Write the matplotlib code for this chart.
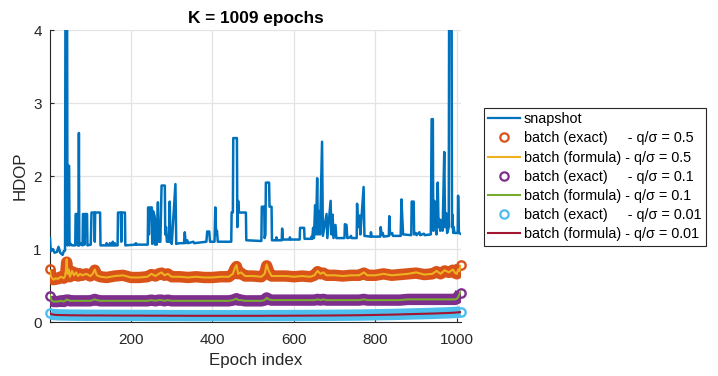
import matplotlib
matplotlib.use("Agg")
import matplotlib.pyplot as plt
from matplotlib.lines import Line2D
import numpy as np

plt.rcParams["font.family"] = ["Liberation Sans", "DejaVu Sans"]

# colours (matlab default order)
C_BLUE = "#0072BD"
C_ORANGE = "#D95319"
C_YELLOW = "#EDB120"
C_PURPLE = "#7E2F8E"
C_GREEN = "#77AC30"
C_LBLUE = "#4DBEEE"
C_RED = "#A2142F"
C_AX = "#262626"

# snapshot HDOP as (epoch, value) points
snapshot_pts = [
    (1, 1.15), (3, 0.97), (8, 1.0), (12, 0.95), (18, 0.96), (22, 1.03),
    (26, 0.95), (32, 0.92), (35, 0.97), (38, 0.98), (39, 4.5), (43, 4.5),
    (44, 1.05), (46, 2.14), (48, 2.14), (49, 1.05), (52, 1.07), (55, 1.05),
    (63, 1.05), (64, 1.48), (68, 1.48), (69, 1.05), (71, 1.05), (72, 2.59),
    (73, 1.05), (76, 1.08), (81, 1.05), (82, 1.48), (85, 1.48), (86, 1.06),
    (88, 1.48), (92, 1.48), (93, 1.05), (101, 1.06), (103, 1.5), (110, 1.5),
    (111, 1.1), (112, 1.5), (124, 1.5), (125, 1.05), (139, 1.05), (140, 1.08),
    (142, 1.05), (147, 1.05), (148, 1.08), (150, 1.05), (154, 1.05),
    (155, 1.1), (157, 1.05), (159, 1.05), (160, 1.08), (162, 1.05),
    (167, 1.05), (168, 1.5), (175, 1.5), (176, 1.1), (177, 1.5), (185, 1.5),
    (186, 1.05), (211, 1.06), (212, 1.08), (214, 1.06), (241, 1.06),
    (242, 1.57), (244, 1.2), (246, 1.57), (251, 1.57), (252, 1.07),
    (254, 1.52), (258, 1.45), (259, 1.06), (261, 1.4), (263, 1.06),
    (266, 1.64), (268, 1.1), (272, 1.1), (275, 1.87), (283, 1.87), (284, 1.2),
    (286, 1.3), (288, 1.1), (293, 1.1), (295, 1.65), (297, 1.1), (300, 1.07),
    (309, 1.89), (311, 1.07), (318, 1.08), (330, 1.08), (332, 1.23),
    (334, 1.08), (338, 1.12), (340, 1.08), (353, 1.1), (355, 1.08),
    (385, 1.1), (387, 1.24), (392, 1.24), (394, 1.1), (405, 1.1), (407, 1.57),
    (409, 1.2), (411, 1.25), (413, 1.1), (446, 1.1), (447, 1.5), (450, 1.5),
    (451, 2.52), (460, 2.52), (461, 1.3), (463, 1.66), (465, 1.5), (482, 1.5),
    (483, 1.12), (520, 1.11), (521, 1.58), (527, 1.58), (528, 1.15),
    (530, 1.2), (531, 1.91), (539, 1.91), (540, 1.58), (545, 1.58),
    (546, 1.12), (556, 1.12), (557, 1.16), (558, 1.12), (570, 1.12),
    (571, 1.28), (573, 1.13), (589, 1.13), (590, 1.16), (592, 1.13),
    (614, 1.13), (615, 1.29), (625, 1.29), (626, 1.14), (642, 1.14),
    (643, 1.17), (645, 1.14), (647, 1.29), (649, 1.15), (652, 1.6),
    (654, 1.2), (657, 1.97), (659, 1.2), (662, 1.52), (664, 1.2), (669, 2.47),
    (671, 1.18), (680, 1.48), (682, 1.15), (690, 1.66), (692, 1.2),
    (695, 1.47), (697, 1.15), (702, 1.33), (704, 1.15), (724, 1.15),
    (725, 1.34), (729, 1.33), (731, 1.15), (738, 1.16), (740, 1.18),
    (742, 1.15), (754, 1.15), (755, 1.62), (757, 1.3), (761, 1.46),
    (763, 1.2), (771, 1.85), (773, 1.18), (788, 1.17), (789, 1.23),
    (791, 1.17), (812, 1.17), (813, 1.3), (815, 1.2), (818, 1.22),
    (820, 1.17), (833, 1.18), (834, 1.45), (836, 1.2), (841, 1.22),
    (843, 1.18), (862, 1.18), (864, 1.68), (866, 1.42), (868, 1.2),
    (888, 1.19), (889, 1.65), (894, 1.65), (895, 1.2), (899, 1.22),
    (901, 1.19), (908, 1.23), (910, 1.19), (919, 1.21), (921, 1.19),
    (936, 1.2), (938, 2.78), (941, 2.78), (942, 1.25), (945, 1.66),
    (947, 1.3), (950, 1.2), (953, 1.91), (955, 1.3), (957, 1.41), (959, 1.25),
    (963, 1.39), (965, 1.25), (969, 2.33), (971, 1.3), (974, 1.49),
    (976, 1.22), (980, 1.3), (981, 4.5), (987, 4.5), (988, 1.3), (989, 1.47),
    (991, 1.22), (992, 1.3), (994, 1.22), (1002, 1.22), (1003, 1.73),
    (1005, 1.22), (1009, 1.21),
]

# batch solutions, sampled epochs
batch_epoch = [
    1, 3, 6, 10, 15, 20, 28, 35, 38, 40,
    42, 44, 47, 50, 55, 60, 65, 70, 75, 80,
    90, 100, 106, 111, 116, 125, 140, 160, 180, 200,
    220, 240, 250, 260, 268, 275, 282, 290, 300, 320,
    340, 360, 380, 400, 420, 440, 450, 455, 459, 463,
    470, 480, 500, 520, 528, 533, 538, 545, 560, 580,
    600, 620, 640, 650, 658, 665, 672, 680, 700, 720,
    740, 760, 772, 780, 800, 820, 840, 860, 880, 900,
    920, 940, 950, 960, 970, 980, 990, 996, 1000, 1003,
    1006, 1009,
]

q05_formula = [
    0.70, 0.63, 0.60, 0.58, 0.60, 0.59, 0.62, 0.60, 0.63, 0.70,
    0.86, 0.66, 0.72, 0.62, 0.70, 0.64, 0.68, 0.63, 0.66, 0.64,
    0.66, 0.63, 0.66, 0.72, 0.64, 0.62, 0.61, 0.63, 0.64, 0.61,
    0.61, 0.62, 0.66, 0.63, 0.66, 0.68, 0.64, 0.66, 0.62, 0.62,
    0.61, 0.62, 0.61, 0.61, 0.62, 0.62, 0.66, 0.74, 0.78, 0.66,
    0.68, 0.63, 0.63, 0.62, 0.66, 0.79, 0.70, 0.63, 0.63, 0.63,
    0.62, 0.63, 0.62, 0.64, 0.70, 0.66, 0.68, 0.64, 0.64, 0.63,
    0.64, 0.64, 0.68, 0.64, 0.64, 0.66, 0.64, 0.65, 0.66, 0.68,
    0.65, 0.66, 0.70, 0.66, 0.71, 0.68, 0.72, 0.67, 0.66, 0.72,
    0.70, 0.77,
]
q05_exact = [
    0.72, 0.64, 0.60, 0.58, 0.60, 0.59, 0.62, 0.60, 0.63, 0.69,
    0.82, 0.66, 0.71, 0.62, 0.69, 0.64, 0.67, 0.63, 0.66, 0.64,
    0.66, 0.63, 0.66, 0.71, 0.64, 0.62, 0.61, 0.63, 0.64, 0.61,
    0.61, 0.62, 0.65, 0.63, 0.66, 0.67, 0.64, 0.66, 0.62, 0.62,
    0.61, 0.62, 0.61, 0.61, 0.62, 0.62, 0.66, 0.73, 0.76, 0.66,
    0.67, 0.63, 0.63, 0.62, 0.66, 0.77, 0.69, 0.63, 0.63, 0.63,
    0.62, 0.63, 0.62, 0.64, 0.69, 0.66, 0.67, 0.64, 0.64, 0.63,
    0.64, 0.64, 0.67, 0.64, 0.64, 0.66, 0.64, 0.65, 0.66, 0.67,
    0.65, 0.66, 0.69, 0.66, 0.70, 0.68, 0.71, 0.67, 0.66, 0.71,
    0.70, 0.78,
]

q01_formula = [
    0.37, 0.32, 0.29, 0.28, 0.28, 0.28, 0.29, 0.28, 0.29, 0.30,
    0.31, 0.30, 0.30, 0.29, 0.29, 0.29, 0.29, 0.29, 0.29, 0.29,
    0.29, 0.29, 0.30, 0.31, 0.30, 0.29, 0.29, 0.29, 0.29, 0.29,
    0.29, 0.29, 0.30, 0.29, 0.30, 0.30, 0.29, 0.30, 0.29, 0.29,
    0.29, 0.29, 0.29, 0.29, 0.29, 0.29, 0.30, 0.31, 0.32, 0.30,
    0.30, 0.29, 0.29, 0.29, 0.30, 0.33, 0.31, 0.30, 0.30, 0.30,
    0.30, 0.30, 0.30, 0.30, 0.31, 0.30, 0.31, 0.30, 0.30, 0.30,
    0.30, 0.30, 0.31, 0.30, 0.30, 0.30, 0.30, 0.30, 0.31, 0.31,
    0.31, 0.31, 0.31, 0.31, 0.31, 0.31, 0.31, 0.31, 0.32, 0.34,
    0.38, 0.41,
]
q01_exact = [
    0.35, 0.31, 0.29, 0.28, 0.28, 0.28, 0.29, 0.28, 0.29, 0.30,
    0.30, 0.30, 0.30, 0.29, 0.29, 0.29, 0.29, 0.29, 0.29, 0.29,
    0.29, 0.29, 0.30, 0.31, 0.30, 0.29, 0.29, 0.29, 0.29, 0.29,
    0.29, 0.29, 0.30, 0.29, 0.30, 0.30, 0.29, 0.30, 0.29, 0.29,
    0.29, 0.29, 0.29, 0.29, 0.29, 0.29, 0.30, 0.31, 0.32, 0.30,
    0.30, 0.29, 0.29, 0.29, 0.30, 0.33, 0.31, 0.30, 0.30, 0.30,
    0.30, 0.30, 0.30, 0.30, 0.31, 0.30, 0.31, 0.30, 0.30, 0.30,
    0.30, 0.30, 0.31, 0.30, 0.30, 0.30, 0.30, 0.30, 0.31, 0.31,
    0.31, 0.31, 0.31, 0.31, 0.31, 0.31, 0.31, 0.31, 0.32, 0.34,
    0.37, 0.40,
]

q001_formula = [
    0.120, 0.110, 0.105, 0.100, 0.098, 0.096, 0.095, 0.094, 0.094, 0.094,
    0.093, 0.093, 0.093, 0.092, 0.092, 0.092, 0.091, 0.091, 0.091, 0.091,
    0.090, 0.090, 0.090, 0.090, 0.090, 0.090, 0.089, 0.089, 0.088, 0.088,
    0.088, 0.087, 0.087, 0.087, 0.087, 0.087, 0.087, 0.086, 0.086, 0.086,
    0.085, 0.085, 0.085, 0.085, 0.085, 0.085, 0.085, 0.085, 0.085, 0.085,
    0.085, 0.085, 0.085, 0.085, 0.085, 0.086, 0.086, 0.086, 0.086, 0.086,
    0.087, 0.087, 0.088, 0.088, 0.088, 0.089, 0.089, 0.089, 0.090, 0.091,
    0.092, 0.093, 0.094, 0.095, 0.097, 0.099, 0.101, 0.104, 0.107, 0.110,
    0.113, 0.116, 0.118, 0.120, 0.122, 0.124, 0.127, 0.129, 0.131, 0.132,
    0.134, 0.136,
]
q001_exact = [
    0.125, 0.113, 0.107, 0.102, 0.100, 0.098, 0.097, 0.096, 0.096, 0.096,
    0.095, 0.095, 0.095, 0.094, 0.094, 0.094, 0.093, 0.093, 0.093, 0.093,
    0.092, 0.092, 0.092, 0.092, 0.092, 0.092, 0.091, 0.091, 0.090, 0.090,
    0.090, 0.089, 0.089, 0.089, 0.089, 0.089, 0.089, 0.088, 0.088, 0.088,
    0.087, 0.087, 0.087, 0.087, 0.087, 0.087, 0.087, 0.087, 0.087, 0.087,
    0.087, 0.087, 0.087, 0.087, 0.087, 0.088, 0.088, 0.088, 0.088, 0.088,
    0.089, 0.089, 0.090, 0.090, 0.090, 0.091, 0.091, 0.091, 0.092, 0.093,
    0.094, 0.095, 0.096, 0.097, 0.099, 0.101, 0.103, 0.106, 0.109, 0.112,
    0.115, 0.118, 0.120, 0.122, 0.124, 0.126, 0.129, 0.131, 0.133, 0.134,
    0.136, 0.138,
]

labels = [
    "snapshot",
    "batch (exact)     - q/σ = 0.5",
    "batch (formula) - q/σ = 0.5",
    "batch (exact)     - q/σ = 0.1",
    "batch (formula) - q/σ = 0.1",
    "batch (exact)     - q/σ = 0.01",
    "batch (formula) - q/σ = 0.01",
]

fig = plt.figure(figsize=(7.18, 3.76), dpi=100)
ax = fig.add_axes([0.0696, 0.1436, 0.5724, 0.7764])

snap_x, snap_y = zip(*snapshot_pts)
ax.plot(snap_x, snap_y, color=C_BLUE, lw=1.8, zorder=3)

exact_series = [(q05_exact, C_ORANGE), (q01_exact, C_PURPLE),
                (q001_exact, C_LBLUE)]
formula_series = [(q05_formula, C_YELLOW), (q01_formula, C_GREEN),
                  (q001_formula, C_RED)]

for vals, col in exact_series:
    # dense circle markers in the original merge into a thick band
    ax.plot(batch_epoch, vals, color=col, lw=8.2, solid_capstyle="butt",
            solid_joinstyle="round", zorder=4)
    ax.plot([batch_epoch[0], batch_epoch[-1]], [vals[0], vals[-1]],
            ls="none", marker="o", ms=6, mew=1.7, mfc="none", mec=col,
            zorder=4, clip_on=False)
for vals, col in formula_series:
    ax.plot(batch_epoch, vals, color=col, lw=1.5, zorder=5)

ax.set_xlim(1, 1010)
ax.set_ylim(0, 4)
ax.set_xticks([200, 400, 600, 800, 1000])
ax.set_yticks([0, 1, 2, 3, 4])
ax.grid(True, color="#E3E3E3", lw=0.9)
ax.set_axisbelow(True)
for side in ["top", "right"]:
    ax.spines[side].set_visible(False)
for side in ["left", "bottom"]:
    ax.spines[side].set_color(C_AX)
    ax.spines[side].set_linewidth(0.8)
ax.tick_params(direction="in", length=3, width=0.8, colors=C_AX,
               labelsize=11)
ax.tick_params(axis="x", pad=8)
ax.tick_params(axis="y", pad=6)
ax.set_xlabel("Epoch index", fontsize=12.2, color=C_AX, labelpad=4)
ax.set_ylabel("HDOP", fontsize=12.2, color=C_AX, labelpad=4)
ax.set_title("K = 1009 epochs", fontsize=12.4, fontweight="bold",
             color="black", pad=5)

handles = [
    Line2D([], [], color=C_BLUE, lw=1.6),
    Line2D([], [], ls="none", marker="o", ms=6, mew=1.6, mfc="none",
           mec=C_ORANGE),
    Line2D([], [], color=C_YELLOW, lw=1.5),
    Line2D([], [], ls="none", marker="o", ms=6, mew=1.6, mfc="none",
           mec=C_PURPLE),
    Line2D([], [], color=C_GREEN, lw=1.5),
    Line2D([], [], ls="none", marker="o", ms=6, mew=1.6, mfc="none",
           mec=C_LBLUE),
    Line2D([], [], color=C_RED, lw=1.5),
]
leg = fig.legend(handles, labels, loc="upper left",
                 bbox_to_anchor=(0.674, 0.713), fontsize=10.4,
                 frameon=True, fancybox=False, framealpha=1,
                 edgecolor=C_AX, handlelength=2.2, handletextpad=0.25,
                 borderpad=0.3, labelspacing=0.36, borderaxespad=0)
leg.get_frame().set_linewidth(0.8)
for t in leg.get_texts():
    t.set_color("black")

fig.savefig("out.png", dpi=100)
